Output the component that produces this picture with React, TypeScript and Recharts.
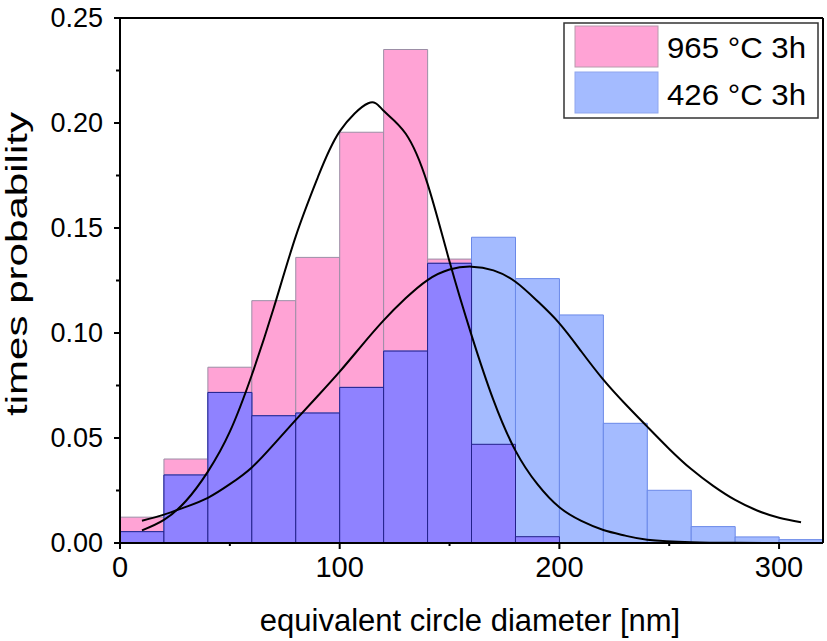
import React from "react";
import {
  ComposedChart,
  Bar,
  Line,
  XAxis,
  YAxis,
  Legend,
  ReferenceLine,
} from "recharts";

// histogram bins (start of each 20 nm bin)
const binStart = [0, 20, 40, 60, 80, 100, 120, 140, 160, 180, 200, 220, 240, 260, 280, 300];
const pink965 = [0.0123, 0.04, 0.0837, 0.1154, 0.136, 0.1956, 0.235, 0.1352, 0.047, 0.003, 0, 0, 0, 0, 0, 0];
const blue426 = [0.0054, 0.0324, 0.0717, 0.0606, 0.0619, 0.0741, 0.0914, 0.1332, 0.1456, 0.1259, 0.1086, 0.057, 0.0251, 0.0078, 0.0029, 0.0016];

// fitted curves
const fit965X = [10, 20, 30, 40, 50, 60, 70, 80, 90, 100, 113, 120, 130, 140, 150, 160, 170, 180, 190, 200, 210, 220, 230, 240, 260, 280, 300];
const fit965Y = [0.006, 0.011, 0.02, 0.034, 0.053, 0.08, 0.112, 0.146, 0.174, 0.196, 0.2094, 0.2058, 0.195, 0.171, 0.134, 0.099, 0.068, 0.044, 0.028, 0.017, 0.0105, 0.0062, 0.0035, 0.0016, 0.0004, 0.0001, 0];
const fit426X = [10, 20, 30, 40, 50, 60, 70, 80, 90, 100, 110, 120, 130, 140, 150, 160, 170, 180, 190, 200, 210, 220, 230, 240, 250, 260, 270, 280, 290, 300, 310];
const fit426Y = [0.0106, 0.0135, 0.0172, 0.0215, 0.028, 0.036, 0.047, 0.0586, 0.07, 0.0816, 0.094, 0.106, 0.1165, 0.1252, 0.1302, 0.1316, 0.1298, 0.1244, 0.1152, 0.1046, 0.0912, 0.0778, 0.0662, 0.0554, 0.0448, 0.0352, 0.0272, 0.0205, 0.0155, 0.012, 0.0099];

const xTicks = [0, 50, 100, 150, 200, 250, 300];
const yTicks = [0, 0.025, 0.05, 0.075, 0.1, 0.125, 0.15, 0.175, 0.2, 0.225, 0.25];
const seriesNames = ["965 °C 3h", "426 °C 3h"];

const PINK = "#ffa3d5";
const BLUE = "#a4bbff";
const PURPLE = "#8f82ff";
const FONT = "'Liberation Sans', Arial, sans-serif";

const bins = binStart.map((b, i) => ({
  bin: b,
  pink: pink965[i],
  blue: blue426[i],
  both: Math.min(pink965[i], blue426[i]),
}));
const fit965 = fit965X.map((x, i) => ({ x, y: fit965Y[i] }));
const fit426 = fit426X.map((x, i) => ({ x, y: fit426Y[i] }));

const XTick = (props: any) => {
  const { x, y, payload } = props;
  const major = payload.value % 100 === 0;
  return (
    <g>
      <line x1={x} x2={x} y1={y} y2={y + (major ? 6 : 3)} stroke="#000" strokeWidth={2} />
      {major && (
        <text x={x} y={y + 34} textAnchor="middle" fontSize={29} fontFamily={FONT} fill="#000">
          {payload.value}
        </text>
      )}
    </g>
  );
};

const YTick = (props: any) => {
  const { x, y, payload } = props;
  const major = Math.round(payload.value * 1000) % 50 === 0;
  return (
    <g>
      <line x1={x} x2={x - (major ? 6 : 4)} y1={y} y2={y} stroke="#000" strokeWidth={2} />
      {major && (
        <text x={x - 17} y={y + 9} textAnchor="end" fontSize={27} fontFamily={FONT} fill="#000">
          {payload.value.toFixed(2)}
        </text>
      )}
    </g>
  );
};

const XTitle = () => (
  <text x={470} y={631} textAnchor="middle" fontSize={31} fontFamily={FONT} fill="#000">
    equivalent circle diameter [nm]
  </text>
);

const YTitle = () => (
  <text
    x={27}
    y={264}
    transform="rotate(-90 27 264)"
    textAnchor="middle"
    fontSize={30}
    fontFamily={FONT}
    fill="#000"
    textLength={304}
    lengthAdjust="spacingAndGlyphs"
  >
    times probability
  </text>
);

const LegendBox = () => (
  <svg width={256} height={97}>
    <rect x={1} y={1} width={254} height={95} fill="#fff" stroke="#333" strokeWidth={1.5} />
    <rect x={12} y={4} width={83} height={41} fill={PINK} stroke="#b89aac" />
    <rect x={12} y={50} width={83} height={41} fill={BLUE} stroke="#8fa6ee" />
    <text x={104} y={36} fontSize={30} fontFamily={FONT} fill="#000" textLength={139} lengthAdjust="spacingAndGlyphs">
      {seriesNames[0]}
    </text>
    <text x={104} y={83} fontSize={30} fontFamily={FONT} fill="#000" textLength={139} lengthAdjust="spacingAndGlyphs">
      {seriesNames[1]}
    </text>
  </svg>
);

export default function App() {
  return (
    <div style={{ position: "absolute", left: 0, top: 0, width: 827, height: 641, background: "#fff" }}>
      <ComposedChart
        width={827}
        height={641}
        data={bins}
        margin={{ top: 18, right: 4, bottom: 0, left: 0 }}
        barCategoryGap={0}
        barGap={0}
      >
        <XAxis xAxisId="pa" dataKey="bin" type="category" hide />
        <XAxis xAxisId="pb" dataKey="bin" type="category" hide />
        <XAxis xAxisId="pc" dataKey="bin" type="category" hide />
        <XAxis
          dataKey="x"
          type="number"
          domain={[0, 320]}
          ticks={xTicks}
          interval={0}
          height={98}
          tickSize={0}
          tickMargin={0}
          tickLine={false}
          tick={<XTick />}
          axisLine={{ stroke: "#000", strokeWidth: 2 }}
          allowDataOverflow
          label={<XTitle />}
        />
        <YAxis
          domain={[0, 0.25]}
          ticks={yTicks}
          interval={0}
          width={120}
          tickSize={0}
          tickMargin={0}
          tickLine={false}
          tick={<YTick />}
          axisLine={{ stroke: "#000", strokeWidth: 2 }}
          allowDataOverflow
          label={<YTitle />}
        />
        <Bar xAxisId="pa" dataKey="pink" fill={PINK} stroke="#9c8ea6" strokeWidth={1} isAnimationActive={false} />
        <Bar xAxisId="pb" dataKey="blue" fill={BLUE} stroke="#6a88e8" strokeWidth={1} isAnimationActive={false} />
        <Bar xAxisId="pc" dataKey="both" fill={PURPLE} stroke="#22208a" strokeWidth={1} isAnimationActive={false} />
        <Line data={fit965} dataKey="y" type="natural" stroke="#000" strokeWidth={2} dot={false} isAnimationActive={false} />
        <Line data={fit426} dataKey="y" type="natural" stroke="#000" strokeWidth={2} dot={false} isAnimationActive={false} />
        <ReferenceLine y={0.25} stroke="#000" strokeWidth={2} />
        <ReferenceLine x={320} stroke="#000" strokeWidth={2} />
        <Legend
          layout="vertical"
          align="center"
          verticalAlign="middle"
          content={<LegendBox />}
          wrapperStyle={{ left: 563, top: 22, width: 256, height: 97 }}
        />
      </ComposedChart>
    </div>
  );
}
